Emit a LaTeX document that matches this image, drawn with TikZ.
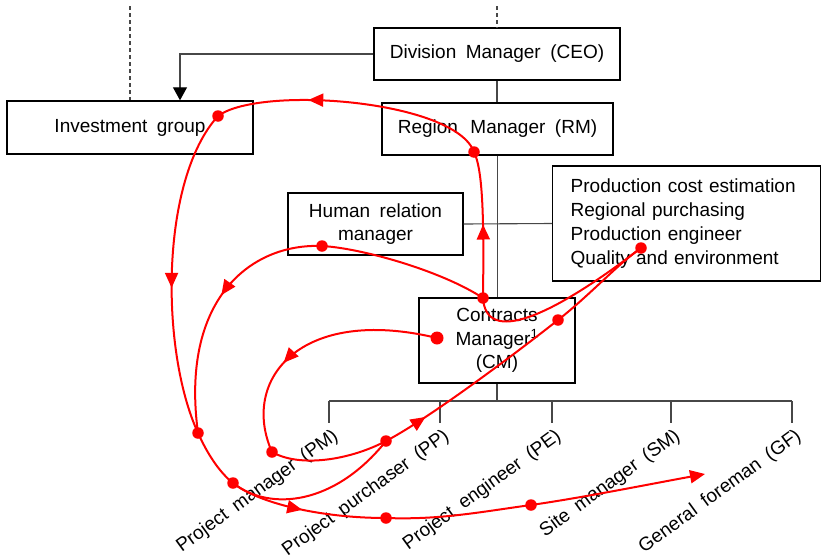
\documentclass[tikz,border=0pt]{standalone}
\usepackage{fontspec}
\setmainfont{Liberation Sans}[WordSpace=1.8]
\usetikzlibrary{arrows.meta,decorations.markings}

\begin{document}
\begin{tikzpicture}[x=1pt,y=-1pt,
  font=\fontsize{19}{23.5}\selectfont,
  box/.style={draw=black,line width=1.4pt,inner sep=0pt,align=center},
  tree/.style={draw=black!72,line width=1.1pt},
  flow/.style={draw=red,line width=2pt},
  dot/.style={circle,fill=red,inner sep=0pt,minimum size=11.5pt},
  bigdot/.style={dot,minimum size=13pt},
  tip/.style={-{Triangle[length=15pt,width=13pt]}},
  midarrow/.style={postaction={decorate},decoration={markings,
      mark=at position #1 with {\arrow{Triangle[length=15pt,width=13pt]}}}},
  role/.style={rotate=36,anchor=north east,inner sep=0pt}
]
\useasboundingbox (0,0) rectangle (821,554);

% organisation boxes
\node[box,minimum width=246pt,minimum height=52pt] (ceo) at (497,54) {Division Manager (CEO)};
\node[box,minimum width=231pt,minimum height=52pt] (rm) at (497.5,129) {Region\hspace{3pt} Manager (RM)};
\node[box,minimum width=246pt,minimum height=53pt] (ig) at (130,127.5) {Investment group};
\node[box,minimum width=175pt,minimum height=62pt] (hr) at (375.5,224) {Human relation\\manager};
\node[box,anchor=west,inner xsep=18pt,text width=232pt,minimum height=115pt,align=left,
      font=\fontsize{19}{24}\selectfont] (prod) at (552,223.5)
  {Production cost estimation\\Regional purchasing\\Production engineer\\Quality and environment};
\node[box,minimum width=156pt,minimum height=85pt] (cm) at (497,340.5) {Contracts\\Manager\textsuperscript{1}\\(CM)};

% dashed links leaving the top of the chart
\coordinate (igtop) at (130,6);
\coordinate (ceotop) at (497,6);
\draw[tree,dash pattern=on 4pt off 3pt] (igtop) -- (igtop |- ig.north);
\draw[tree,dash pattern=on 4pt off 3pt] (ceotop) -- (ceo.north);

% line organisation
\path (ig.north) ++(50,0) coordinate (igin);
\draw[tree,-{Triangle[length=13pt,width=14pt,color=black,fill=black]}] (ceo.west) -| (igin);
\draw[tree] (ceo.south) -- (ceo.south |- rm.north);
\draw[tree] (rm.south) -- (rm.south |- cm.north);
\draw[tree] (hr.east) -- (prod.west);

% project roles below the contracts manager
\coordinate (bar) at (497,401);
\foreach \i/\x in {1/329,2/440,3/552,4/671,5/792}{
  \coordinate (b\i) at (\x,401);
  \coordinate (k\i) at (\x,423);
}
\draw[tree] (cm.south) -- (bar);
\draw[tree] (b1) -- (b5);
\foreach \i in {1,...,5}{ \draw[tree] (b\i) -- (k\i); }

\node[role] (pm) at ([shift={(2,4)}]k1) {Project manager (PM)};
\node[role] (pp) at ([shift={(2,4)}]k2) {Project purchaser (PP)};
\node[role] (pe) at ([shift={(2,4)}]k3) {Project engineer (PE)};
\node[role] (sm) at ([shift={(2,4)}]k4) {Site manager (SM)};
\node[role] (gf) at ([shift={(2,4)}]k5) {General foreman (GF)};

% information flow markers
\node[dot] (dRM) at (474,152) {};
\node[dot] (dIG) at (218,116) {};
\node[dot] (dHR) at (322,246) {};
\node[dot] (dCMt) at (483,298) {};
\node[bigdot] (dCMl) at (437,338) {};
\node[dot] (dCMi) at (558,320) {};
\node[dot] (dPR) at (641,248) {};
\node[dot] (dJ1) at (198,433) {};
\node[dot] (dJ2) at (233,483) {};
\node[dot] (dPM) at (272,452) {};
\node[dot] (dPP) at (386,441) {};
\node[dot] (dB1) at (386,518) {};
\node[dot] (dB2) at (531,505) {};
\coordinate (gfend) at (705,474);

% information flows
\draw[flow,midarrow=0.5] (dCMt.center) .. controls (484,220) and (483,170) .. (dRM.center);
\draw[flow,midarrow=0.66] (dRM.center) .. controls (455,100) and (260,85) .. (dIG.center);
\draw[flow,midarrow=0.55] (dIG.center) .. controls (160,180) and (160,350) .. (dJ1.center);
\draw[flow] (dJ1.center) .. controls (207,453) and (219,472) .. (dJ2.center);
\draw[flow,midarrow=0.47] (dJ2.center) .. controls (258,503) and (320,518) .. (dB1.center);
\draw[flow] (dB1.center) .. controls (440,520) and (480,512) .. (dB2.center);
\draw[flow,tip] (dB2.center) .. controls (580,498) and (640,486) .. (gfend);

\draw[flow] (dCMt.center) .. controls (440,270) and (360,248) .. (dHR.center);
\draw[flow,midarrow=0.45] (dHR.center) .. controls (250,243) and (180,300) .. (dJ1.center);

\draw[flow,midarrow=0.63] (dCMl.center) .. controls (300,305) and (240,380) .. (dPM.center);
\draw[flow] (dPM.center) .. controls (300,468) and (350,460) .. (dPP.center);
\draw[flow] (dJ2.center) .. controls (270,512) and (335,505) .. (dPP.center);
\draw[flow,midarrow=0.22] (dPP.center) .. controls (430,418) and (520,350) .. (dCMi.center);
\draw[flow] (dCMi.center) .. controls (590,295) and (620,262) .. (dPR.center);
\draw[flow] (dCMt.center) .. controls (486,345) and (550,318) .. (dPR.center);
\end{tikzpicture}
\end{document}
